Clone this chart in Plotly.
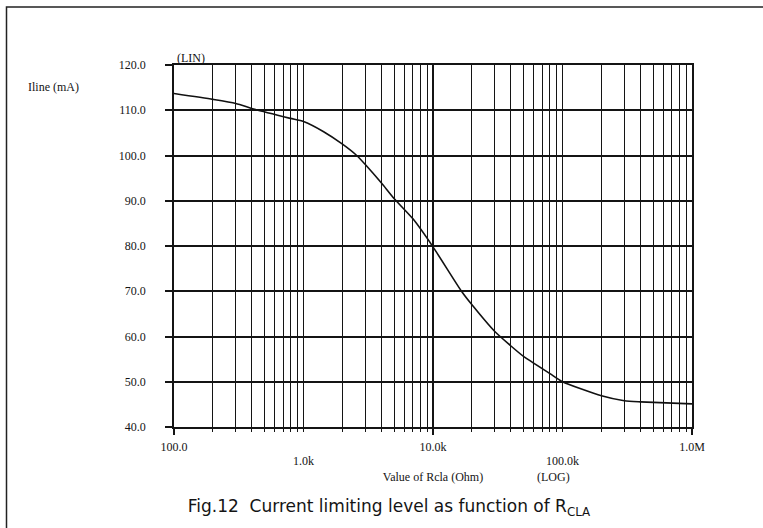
import plotly.graph_objects as go

# ---- data ----
r_ohm = [100, 200, 300, 420, 790, 1000, 1420, 2000, 2575, 3000, 4000, 5000, 7000, 10000,
         16600, 20000, 30000, 40000, 50000, 80000, 100000,
         200000, 300000, 400000, 1000000]
i_line = [113.7, 112.4, 111.5, 110.2, 108.2, 107.5, 105.3, 102.5, 100.0, 98.0, 93.9, 90.5, 86.0, 79.8,
          70.0, 67.0, 61.1, 57.9, 55.6, 51.8, 50.0,
          46.9, 45.8, 45.55, 45.1]

x_row1_vals = [100, 10000, 1000000]
x_row1_text = ["100.0", "10.0k", "1.0M"]
x_row2_vals = [1000, 100000]
x_row2_text = ["1.0k", "100.0k"]
x_decades = [100, 1000, 10000, 100000]
x_minor_mult = [2, 3, 4, 5, 6, 7, 8, 9]
x_minor_vals = [m * d for d in x_decades for m in x_minor_mult]

y_vals = [40, 50, 60, 70, 80, 90, 100, 110, 120]
y_text = ["40.0", "50.0", "60.0", "70.0", "80.0", "90.0", "100.0", "110.0", "120.0"]

x_title = "Value of Rcla (Ohm)"
caption = "Fig.12  Current limiting level as function of R<sub>CLA</sub>"

serif = "Liberation Serif, Times New Roman, serif"
ink = "#141414"

W, H = 763, 528
L, R, T, B = 174, 71, 65, 101
PW, PH = W - L - R, H - T - B


def px(x):
    return (x - L) / PW


def py(y):
    return 1 - (y - T) / PH


fig = go.Figure()
fig.add_trace(go.Scatter(x=r_ohm, y=i_line, mode="lines",
                         line=dict(color="#111111", width=1.6, shape="spline", smoothing=0.6),
                         hoverinfo="skip", showlegend=False))
# invisible companion trace so the second (label-only) x axis renders
fig.add_trace(go.Scatter(x=[r_ohm[0], r_ohm[-1]], y=[i_line[0], i_line[-1]], xaxis="x2",
                         mode="markers", marker=dict(opacity=0), hoverinfo="skip", showlegend=False))

fig.update_layout(
    template="none",
    width=W, height=H,
    margin=dict(l=L, r=R, t=T, b=B, pad=0),
    paper_bgcolor="white", plot_bgcolor="white",
    showlegend=False,
    font=dict(family=serif, size=12, color=ink),
    title=dict(text=caption, xref="paper", yref="container",
               x=px(389), y=1 - 506 / H, xanchor="center", yanchor="middle",
               font=dict(family="DejaVu Sans, Liberation Sans, sans-serif", size=17, color=ink)),
    xaxis=dict(
        type="log", range=[2, 6],
        tickmode="array", tickvals=x_row1_vals, ticktext=x_row1_text,
        ticks="outside", ticklen=6, tickwidth=1.5, tickcolor=ink,
        showgrid=True, gridcolor=ink, gridwidth=1.5,
        minor=dict(tickmode="array", tickvals=x_minor_vals + x_row2_vals, ticks="outside", ticklen=3,
                   tickwidth=1.3, tickcolor=ink, showgrid=True, gridcolor=ink, gridwidth=1.3),
        showline=True, linecolor=ink, linewidth=1.5, mirror=True,
        zeroline=False, ticklabelstandoff=2, automargin=False,
        tickfont=dict(family=serif, size=12, color=ink),
        title=dict(text=x_title, standoff=19, font=dict(family=serif, size=12, color=ink)),
    ),
    xaxis2=dict(
        type="log", range=[2, 6], overlaying="x", anchor="y", side="bottom",
        tickmode="array", tickvals=x_row2_vals, ticktext=x_row2_text,
        ticks="", showgrid=False, showline=False, zeroline=False,
        ticklabelstandoff=25, automargin=False,
        tickfont=dict(family=serif, size=12, color=ink),
    ),
    yaxis=dict(
        range=[40, 120], tickmode="array", tickvals=y_vals, ticktext=y_text,
        ticks="outside", ticklen=7, tickwidth=1.5, tickcolor=ink,
        showgrid=True, gridcolor=ink, gridwidth=1.6,
        showline=True, linecolor=ink, linewidth=1.5, mirror=True,
        zeroline=False, ticklabelstandoff=17, automargin=False,
        tickfont=dict(family=serif, size=12, color=ink),
    ),
)

annots = [
    ("(LIN)", 175, 58, "left"),
    ("Iline (mA)", 26, 87, "left"),
    ("(LOG)", 553, 477, "center"),
]
for text, x, y, anc in annots:
    fig.add_annotation(text=text, xref="paper", yref="paper", x=px(x), y=py(y),
                       xanchor=anc, yanchor="middle", showarrow=False,
                       font=dict(family=serif, size=12, color=ink))

# outer frame (left and top visible; right/bottom run past the picture)
fig.add_shape(type="rect", xref="paper", yref="paper",
              x0=px(6.5), x1=px(W + 10), y0=py(H + 10), y1=py(7),
              line=dict(color="#222222", width=1.5), layer="above")

fig.write_html("out.html", config={"displayModeBar": False},
               post_script="document.body.style.margin='0';")
